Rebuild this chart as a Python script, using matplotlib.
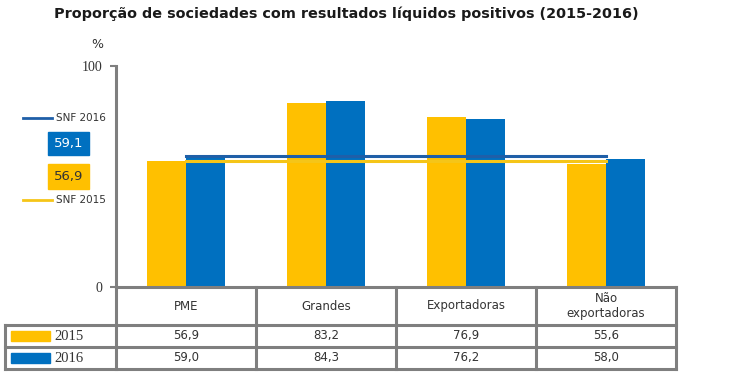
import matplotlib.pyplot as plt

# data
categories = ["PME", "Grandes", "Exportadoras", "Não\nexportadoras"]
vals_2015 = [56.9, 83.2, 76.9, 55.6]
vals_2016 = [59.0, 84.3, 76.2, 58.0]
snf_2015 = 56.9
snf_2016 = 59.1
years = ["2015", "2016"]

YELLOW = "#FFC000"
BLUE = "#0070C0"
GRAY = "#7F7F7F"

W, H = 750, 375
fig = plt.figure(figsize=(7.5, 3.75), dpi=100)

# main bar axes, placed in pixel coords
x0, x1, ytop, ybot = 116, 676, 66, 287
ax = fig.add_axes([x0 / W, 1 - ybot / H, (x1 - x0) / W, (ybot - ytop) / H])
n = len(categories)
centers = [i + 0.5 for i in range(n)]
bw = 0.28
ax.bar([c - bw / 2 for c in centers], vals_2015, width=bw, color=YELLOW, zorder=2)
ax.bar([c + bw / 2 for c in centers], vals_2016, width=bw, color=BLUE, zorder=2)
ax.plot([centers[0], centers[-1]], [snf_2016] * 2, color="#1F5FA8", lw=2.2, zorder=3)
ax.plot([centers[0], centers[-1]], [snf_2015] * 2, color="#F5C518", lw=2.2, zorder=3)
ax.set_xlim(0, n)
ax.set_ylim(0, 100)
ax.set_yticks([0, 100])
ax.set_yticklabels(["0", "100"], family="Liberation Serif", fontsize=10)
ax.set_xticks([])
for s in ["top", "right", "bottom"]:
    ax.spines[s].set_visible(False)
ax.spines["left"].set_color(GRAY)
ax.spines["left"].set_linewidth(2.2)
ax.tick_params(axis="y", length=4, width=1.5, color=GRAY, pad=6, labelcolor="#333333")
ax.patch.set_alpha(0)

# overlay in pixel coords for table, legend and title
ov = fig.add_axes([0, 0, 1, 1])
ov.set_xlim(0, W)
ov.set_ylim(H, 0)
ov.axis("off")
ov.patch.set_alpha(0)

ov.text(346, 14, "Proporção de sociedades com resultados líquidos positivos (2015-2016)",
        ha="center", va="center", fontsize=10.4, fontweight="bold", color="#1a1a1a")
ov.text(97, 45, "%", ha="center", va="center", fontsize=9, color="#333333")

# left legend
ov.plot([23, 52], [118, 118], color="#1F5FA8", lw=2)
ov.text(56, 118, "SNF 2016", ha="left", va="center", fontsize=7.5, color="#333333")
ov.add_patch(plt.Rectangle((48, 132), 41, 23, color=BLUE))
ov.text(68.5, 143.5, f"{snf_2016:.1f}".replace(".", ","), ha="center", va="center",
        fontsize=9.5, color="white")
ov.add_patch(plt.Rectangle((48, 164), 41, 25, color=YELLOW))
ov.text(68.5, 176.5, f"{snf_2015:.1f}".replace(".", ","), ha="center", va="center",
        fontsize=9.5, color="#333333")
ov.plot([23, 52], [200, 200], color="#F5C518", lw=2)
ov.text(56, 200, "SNF 2015", ha="left", va="center", fontsize=7.5, color="#333333")

# table
cols = [116 + 140 * i for i in range(n + 1)]
rows = [287, 325, 347, 369]
lw = 2.2
ov.plot([cols[0], cols[-1]], [rows[0], rows[0]], color=GRAY, lw=lw)
for y in rows[1:]:
    ov.plot([5, cols[-1]], [y, y], color=GRAY, lw=lw)
for x in cols:
    ov.plot([x, x], [rows[0], rows[-1]], color=GRAY, lw=lw)
ov.plot([5, 5], [rows[1], rows[-1]], color=GRAY, lw=lw)

for i, cat in enumerate(categories):
    cx = (cols[i] + cols[i + 1]) / 2
    ov.text(cx, 306, cat, ha="center", va="center", fontsize=8.5, color="#333333",
            linespacing=1.3)
    ov.text(cx, 336, f"{vals_2015[i]:.1f}".replace(".", ","), ha="center", va="center",
            fontsize=8.5, color="#333333")
    ov.text(cx, 358, f"{vals_2016[i]:.1f}".replace(".", ","), ha="center", va="center",
            fontsize=8.5, color="#333333")

for (y, col, lab) in [(336, YELLOW, years[0]), (358, BLUE, years[1])]:
    ov.add_patch(plt.Rectangle((11, y - 5), 39, 10, color=col))
    ov.text(54, y, lab, ha="left", va="center", fontsize=10.5, family="Liberation Serif",
            color="#333333")

fig.savefig("out.png", dpi=100)
